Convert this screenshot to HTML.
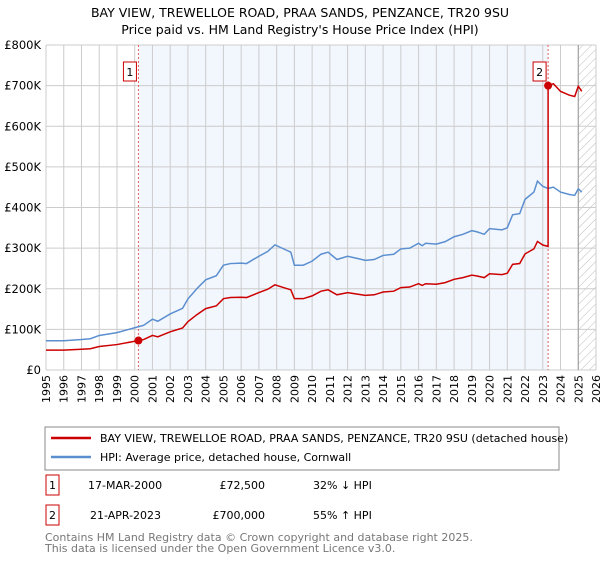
<!DOCTYPE html>
<html><head><meta charset="utf-8"><style>
body{margin:0;background:#fff;font-family:"Liberation Sans","DejaVu Sans",sans-serif;}
svg text{font-family:"DejaVu Sans","Liberation Sans",sans-serif;}
</style></head><body>
<svg id="c" width="600" height="560" xmlns="http://www.w3.org/2000/svg">
<defs><pattern id="h" width="6" height="6" patternUnits="userSpaceOnUse" patternTransform="rotate(45)"><line x1="0" y1="0" x2="0" y2="6" stroke="#bbb" stroke-width="1"/></pattern></defs>
<text x="300" y="17" text-anchor="middle" font-size="12.5">BAY VIEW, TREWELLOE ROAD, PRAA SANDS, PENZANCE, TR20 9SU</text>
<text x="300" y="34" text-anchor="middle" font-size="12.5">Price paid vs. HM Land Registry's House Price Index (HPI)</text>
<g id="plot"></g>
<rect x="45" y="427" width="514" height="43" fill="none" stroke="#888"/>
<line x1="51" y1="438" x2="91" y2="438" stroke="#cc0000" stroke-width="2.5"/>
<text x="100" y="442" font-size="11">BAY VIEW, TREWELLOE ROAD, PRAA SANDS, PENZANCE, TR20 9SU (detached house)</text>
<line x1="51" y1="457" x2="91" y2="457" stroke="#5b8fd0" stroke-width="2.5"/>
<text x="100" y="461" font-size="11">HPI: Average price, detached house, Cornwall</text>
<g font-size="11">
<rect x="46" y="475" width="13" height="20" fill="none" stroke="#cc0000"/><text x="52.5" y="489" text-anchor="middle">1</text>
<text x="88" y="489">17-MAR-2000</text><text x="265" y="489" text-anchor="end">£72,500</text><text x="313" y="489">32% ↓ HPI</text></g>
<g font-size="11">
<rect x="46" y="505" width="13" height="20" fill="none" stroke="#cc0000"/><text x="52.5" y="519" text-anchor="middle">2</text>
<text x="90" y="519">21-APR-2023</text><text x="265" y="519" text-anchor="end">£700,000</text><text x="313" y="519">55% ↑ HPI</text></g>
<text x="45" y="541" font-size="11" fill="#777">Contains HM Land Registry data © Crown copyright and database right 2025.</text>
<text x="45" y="552" font-size="11" fill="#777">This data is licensed under the Open Government Licence v3.0.</text>
</svg>
<script>
const hpiYears=[1995,1996,1997,1997.5,1998,1999,2000,2000.5,2001,2001.3,2002,2002.7,2003,2003.5,2004,2004.6,2005,2005.4,2006,2006.3,2007,2007.5,2007.9,2008.5,2008.8,2009.0,2009.5,2010,2010.5,2010.9,2011.4,2012,2012.5,2013,2013.5,2014,2014.6,2015,2015.5,2016,2016.2,2016.4,2017,2017.5,2018,2018.5,2019,2019.3,2019.7,2020,2020.7,2021.0,2021.3,2021.7,2022,2022.5,2022.7,2023,2023.3,2023.6,2024,2024.5,2024.8,2025,2025.2];
const hpiValues=[72,72,75,77,85,92,104,110,125,120,138,152,175,200,222,232,258,262,263,262,280,292,308,296,290,258,258,268,285,290,272,280,275,270,272,282,285,298,300,312,306,312,310,316,328,334,343,340,334,348,345,350,382,385,420,438,465,452,447,450,438,432,430,446,438];
const sale1=[2000.21,72.5], sale2=[2023.3,700];
const yTicks=[0,100,200,300,400,500,600,700,800];
const yLabels=["£0","£100K","£200K","£300K","£400K","£500K","£600K","£700K","£800K"];
const xYears=[1995,1996,1997,1998,1999,2000,2001,2002,2003,2004,2005,2006,2007,2008,2009,2010,2011,2012,2013,2014,2015,2016,2017,2018,2019,2020,2021,2022,2023,2024,2025,2026];
const X0=46,X1=596,Y0=370,Y1=45;
const xs=y=>X0+(y-1995)/(2026-1995)*(X1-X0);
const ys=v=>Y0-v/800*(Y0-Y1);
const NS="http://www.w3.org/2000/svg";
const g=document.getElementById('plot');
function mk(t,a){const e=document.createElementNS(NS,t);for(const k in a)e.setAttribute(k,a[k]);g.appendChild(e);return e;}
let e;
e=mk('rect',{x:xs(sale1[0]),y:Y1,width:xs(sale2[0])-xs(sale1[0]),height:Y0-Y1,fill:'#f2f6fd'});


e=mk('rect',{x:xs(2025),y:Y1,width:X1-xs(2025),height:Y0-Y1,fill:'url(#h)'});


xYears.forEach(yr=>{e=mk('line',{x1:xs(yr),x2:xs(yr),y1:Y1,y2:Y0,stroke:'#ccc','stroke-width':1});


const t=mk('text',{x:0,y:0,'font-size':11,'text-anchor':'end',transform:`translate(${xs(yr)+4},${Y0+5}) rotate(-90)`});t.textContent=yr;

});
yTicks.forEach((v,i)=>{e=mk('line',{x1:X0,x2:X1,y1:ys(v),y2:ys(v),stroke:'#ccc','stroke-width':1});


const t=mk('text',{x:X0-5,y:ys(v)+4,'font-size':11.5,'text-anchor':'end'});t.textContent=yLabels[i];

});
e=mk('line',{x1:xs(2025),x2:xs(2025),y1:Y1,y2:Y0,stroke:'#999','stroke-width':1});


[sale1,sale2].forEach((s,i)=>{e=mk('line',{x1:xs(s[0]),x2:xs(s[0]),y1:Y1,y2:Y0,stroke:'#e06060','stroke-dasharray':'2,2','stroke-width':1});

});
function hpiAt(y){for(let i=1;i<hpiYears.length;i++)if(y<=hpiYears[i]){const f=(y-hpiYears[i-1])/(hpiYears[i]-hpiYears[i-1]);return hpiValues[i-1]+f*(hpiValues[i]-hpiValues[i-1]);}return hpiValues[hpiValues.length-1];}
const r1=sale1[1]/hpiAt(sale1[0]), r2=sale2[1]/hpiAt(sale2[0]);
let hp='',rp='';
hpiYears.forEach((y,i)=>{hp+=(i?'L':'M')+xs(y)+','+ys(hpiValues[i]);});
let first=true;
hpiYears.forEach((y,i)=>{if(y<sale2[0]){rp+=(first?'M':'L')+xs(y)+','+ys(hpiValues[i]*r1);first=false;}});
rp+='L'+xs(sale2[0])+','+ys(hpiAt(sale2[0])*r1)+'L'+xs(sale2[0])+','+ys(sale2[1]);
hpiYears.forEach((y,i)=>{if(y>sale2[0])rp+='L'+xs(y)+','+ys(hpiValues[i]*r2);});
e=mk('path',{d:hp,fill:'none',stroke:'#5b8fd0','stroke-width':1.5});


e=mk('path',{d:rp,fill:'none',stroke:'#cc0000','stroke-width':1.5});


[sale1,sale2].forEach((s,i)=>{e=mk('circle',{cx:xs(s[0]),cy:ys(s[1]),r:4,fill:'#cc0000'});


const b=mk('rect',{x:xs(s[0])-15,y:62,width:13,height:19,fill:'#fff',stroke:'#cc0000'});


const t=mk('text',{x:xs(s[0])-8.5,y:76,'font-size':11,'text-anchor':'middle'});t.textContent=i+1;

});
</script>
</body></html>
